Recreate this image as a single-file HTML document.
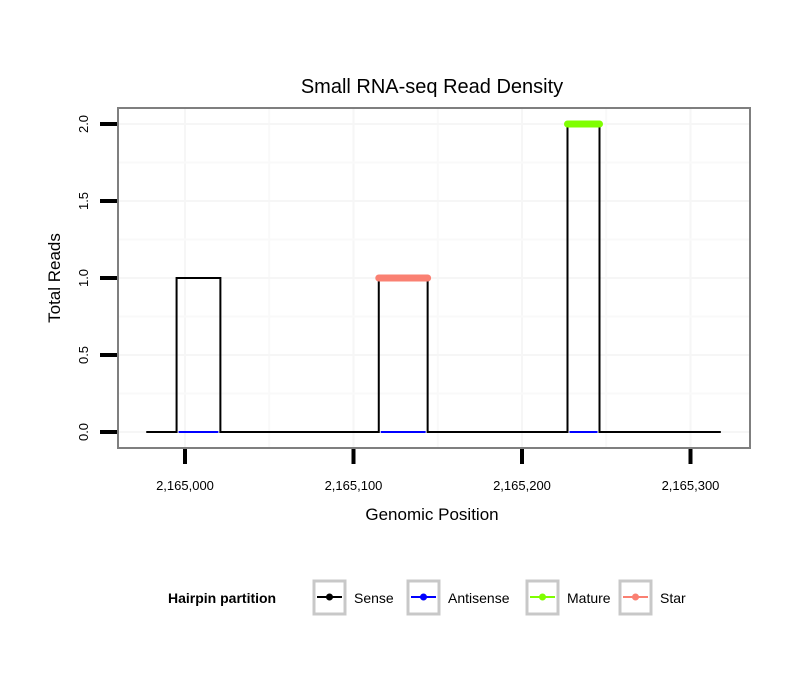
<!DOCTYPE html>
<html><head><meta charset="utf-8"><style>
body{margin:0;background:#fff;font-family:"Liberation Sans",sans-serif}
</style></head><body>
<svg id="chart" width="810" height="690" xmlns="http://www.w3.org/2000/svg" font-family="Liberation Sans, sans-serif">
<rect width="810" height="690" fill="#fff"/>
<text x="432" y="93" font-size="20" text-anchor="middle">Small RNA-seq Read Density</text>
<g id="grid"></g>
<g id="series"></g>
<rect x="118" y="108" width="632" height="340" fill="none" stroke="#7f7f7f" stroke-width="2"/>
<g id="axes"></g>
<text x="432" y="520" font-size="17" text-anchor="middle">Genomic Position</text>
<text transform="translate(60,278) rotate(-90)" font-size="17" text-anchor="middle">Total Reads</text>
<g>
<text x="168" y="603" font-size="14" font-weight="bold">Hairpin partition</text>
<g><rect x="314" y="581" width="31" height="33" fill="#fff" stroke="#c8c8c8" stroke-width="3"/><line x1="317" y1="597" x2="342" y2="597" stroke="#000" stroke-width="2"/><circle cx="329.5" cy="597" r="3.5" fill="#000"/><text x="354" y="603" font-size="14">Sense</text></g>
<g><rect x="408" y="581" width="31" height="33" fill="#fff" stroke="#c8c8c8" stroke-width="3"/><line x1="411" y1="597" x2="436" y2="597" stroke="#0000ff" stroke-width="2"/><circle cx="423.5" cy="597" r="3.5" fill="#0000ff"/><text x="448" y="603" font-size="14">Antisense</text></g>
<g><rect x="527" y="581" width="31" height="33" fill="#fff" stroke="#c8c8c8" stroke-width="3"/><line x1="530" y1="597" x2="555" y2="597" stroke="#7fff00" stroke-width="2"/><circle cx="542.5" cy="597" r="3.5" fill="#7fff00"/><text x="567" y="603" font-size="14">Mature</text></g>
<g><rect x="620" y="581" width="31" height="33" fill="#fff" stroke="#c8c8c8" stroke-width="3"/><line x1="623" y1="597" x2="648" y2="597" stroke="#fa8072" stroke-width="2"/><circle cx="635.5" cy="597" r="3.5" fill="#fa8072"/><text x="660" y="603" font-size="14">Star</text></g>
</g>
</svg>
<script>
const senseX=[2164977,2164995,2165021,2165115,2165144,2165227,2165246,2165318];
const senseY=[0,1,0,1,0,2,0,0];
const antisenseRanges=[[2164995,2165021],[2165115,2165144],[2165227,2165246]];
const matureRange=[2165227,2165246];
const matureValue=2;
const starRange=[2165115,2165144];
const starValue=1;
const xTicks=[2165000,2165100,2165200,2165300];
const xTickLabels=["2,165,000","2,165,100","2,165,200","2,165,300"];
const yTicks=[0,0.5,1,1.5,2];
const yTickLabels=["0.0","0.5","1.0","1.5","2.0"];

const NS="http://www.w3.org/2000/svg";
const xs=v=>185+(v-2165000)*1.685;
const ys=v=>432-v*154;
function mk(tag,attrs,parent){const e=document.createElementNS(NS,tag);for(const k in attrs)e.setAttribute(k,attrs[k]);parent.appendChild(e);return e;}
const grid=document.getElementById('grid'),ser=document.getElementById('series'),ax=document.getElementById('axes');
for(let i=0;i<xTicks.length;i++){
  const g=mk('line',{x1:xs(xTicks[i]),x2:xs(xTicks[i]),y1:109,y2:447,stroke:'#f6f6f6','stroke-width':2},grid);
  
  if(i<xTicks.length-1){const m=mk('line',{x1:xs((xTicks[i]+xTicks[i+1])/2),x2:xs((xTicks[i]+xTicks[i+1])/2),y1:109,y2:447,stroke:'#f9f9f9','stroke-width':2},grid);
  }
}
for(let i=0;i<yTicks.length;i++){
  const g=mk('line',{x1:119,x2:749,y1:ys(yTicks[i]),y2:ys(yTicks[i]),stroke:'#f6f6f6','stroke-width':2},grid);
  
  if(i<yTicks.length-1){const m=mk('line',{x1:119,x2:749,y1:ys((yTicks[i]+yTicks[i+1])/2),y2:ys((yTicks[i]+yTicks[i+1])/2),stroke:'#f9f9f9','stroke-width':2},grid);
  }
}
let d='';
for(let i=0;i<senseX.length;i++){
  const x=xs(senseX[i]);
  if(i===0)d+=`M${x},${ys(senseY[0])}`;
  else d+=`L${x},${ys(senseY[i-1])}L${x},${ys(senseY[i])}`;
}
const sp=mk('path',{d:d,fill:'none',stroke:'#000','stroke-width':2},ser);

antisenseRanges.forEach(r=>{
  const l=mk('line',{x1:xs(r[0])+2,x2:xs(r[1])-2,y1:ys(0),y2:ys(0),stroke:'#0000ff','stroke-width':2},ser);
  
});
const st=mk('line',{x1:xs(starRange[0]),x2:xs(starRange[1]),y1:ys(starValue),y2:ys(starValue),stroke:'#fa8072','stroke-width':7,'stroke-linecap':'round'},ser);

const mt=mk('line',{x1:xs(matureRange[0]),x2:xs(matureRange[1]),y1:ys(matureValue),y2:ys(matureValue),stroke:'#7fff00','stroke-width':7,'stroke-linecap':'round'},ser);

for(let i=0;i<xTicks.length;i++){
  const x=xs(xTicks[i]);
  const t=mk('line',{x1:x,x2:x,y1:449,y2:464,stroke:'#000','stroke-width':4},ax);
  
  const tx=mk('text',{x:x,y:490,'font-size':13,'text-anchor':'middle'},ax);tx.textContent=xTickLabels[i];
  
}
for(let i=0;i<yTicks.length;i++){
  const y=ys(yTicks[i]);
  const t=mk('line',{x1:100,x2:117,y1:y,y2:y,stroke:'#000','stroke-width':4},ax);
  
  const tx=mk('text',{transform:`translate(88,${y}) rotate(-90)`,'font-size':13,'text-anchor':'middle'},ax);tx.textContent=yTickLabels[i];
  
}
</script>
</body></html>
